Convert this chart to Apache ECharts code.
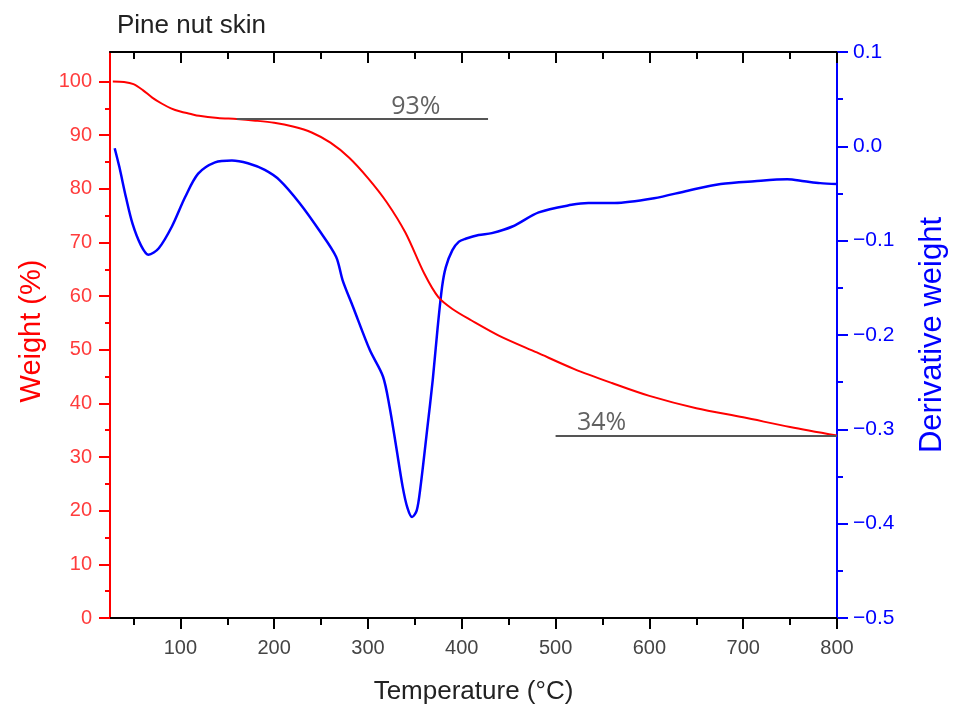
<!DOCTYPE html>
<html>
<head>
<meta charset="utf-8">
<script src="https://cdn.jsdelivr.net/npm/echarts@6/dist/echarts.min.js"></script>
<style>
  html, body { margin: 0; padding: 0; background: #fff; }
  #chart { width: 956px; height: 713px; }
</style>
</head>
<body>
<div id="chart"></div>
<script>
  // weight curve (left axis)
  const tempW = [28, 40, 50, 60, 70, 80, 90, 100, 110, 120, 140, 160, 180, 200, 220, 240, 260, 280, 300, 320,
    340, 360, 375, 390, 410, 440, 480, 520, 560, 600, 650, 700, 750, 800]
  const weight = [100, 99.9, 99.5, 98.4, 97.0, 95.9, 95.0, 94.4, 94.0, 93.6, 93.2, 93.0, 92.7, 92.3, 91.6, 90.5, 88.6, 85.8, 82.0, 77.5,
    71.8, 64.2, 59.8, 57.6, 55.5, 52.6, 49.5, 46.4, 43.8, 41.4, 39.1, 37.4, 35.6, 34.0]

  // derivative curve (right axis)
  const tempD = [30, 35, 42, 49, 58, 66, 77, 91, 105, 119, 137, 155, 172, 190, 206, 227, 248, 266, 273, 284,
    302, 316, 323, 330, 337, 342, 347, 352, 356, 363, 369, 374, 379, 383, 390, 397, 404, 418, 432, 454,
    482, 517, 535, 563, 605, 641, 676, 712, 747, 765, 782, 800]
  const deriv = [-0.002, -0.022, -0.054, -0.082, -0.105, -0.115, -0.108, -0.085, -0.054, -0.029, -0.017, -0.015, -0.018, -0.025, -0.036, -0.060, -0.089, -0.117, -0.142, -0.170,
    -0.216, -0.244, -0.276, -0.318, -0.361, -0.383, -0.393, -0.386, -0.361, -0.301, -0.248, -0.195, -0.149, -0.128, -0.110, -0.101, -0.098, -0.094, -0.092, -0.085,
    -0.070, -0.062, -0.060, -0.060, -0.055, -0.047, -0.040, -0.037, -0.035, -0.037, -0.039, -0.040]

  // ticks
  const xMajor = [100, 200, 300, 400, 500, 600, 700, 800]
  const xMinor = [50, 150, 250, 350, 450, 550, 650, 750]
  const yMajor = [0, 10, 20, 30, 40, 50, 60, 70, 80, 90, 100]
  const yMinor = [5, 15, 25, 35, 45, 55, 65, 75, 85, 95]

  // annotations
  const noteLabels = ['93%', '34%']
  const noteLabelX = [351, 549]
  const noteStart = [160, 500]
  const noteEnd = [428, 800]
  const noteLevel = [93, 34]

  const xMin = 25, xMax = 800
  const wMax = 105.5

  const pair = (xs, ys) => xs.map((x, i) => [x, ys[i]])

  function xAxisBase (position, ticks, len, inside) {
    return {
      type: 'value', position: position, min: xMin, max: xMax,
      axisLine: { show: true, onZero: false, lineStyle: { color: '#000', width: 2 } },
      axisTick: { show: true, customValues: ticks, length: len, inside: inside, lineStyle: { color: '#000', width: 2 } },
      axisLabel: { show: false },
      splitLine: { show: false }
    }
  }

  const bottomMajor = xAxisBase('bottom', xMajor, 11, false)
  bottomMajor.axisLabel = { show: true, customValues: xMajor, fontSize: 20, color: '#444', margin: 20, fontFamily: 'Liberation Sans' }
  bottomMajor.name = 'Temperature (°C)'
  bottomMajor.nameLocation = 'middle'
  bottomMajor.nameGap = 61
  bottomMajor.nameTextStyle = { fontSize: 26, color: '#222', fontFamily: 'Liberation Sans' }

  const bottomMinor = xAxisBase('bottom', xMinor, 7, false)
  bottomMinor.axisLine.show = false
  const topMajor = xAxisBase('top', xMajor, 11, true)
  const topMinor = xAxisBase('top', xMinor, 7, true)
  topMinor.axisLine.show = false

  const derivLabel = v => {
    if (Math.abs(v) < 1e-9) return '0.0'
    return v.toFixed(1).replace('-', '\u2212')
  }

  const chart = echarts.init(document.getElementById('chart'))
  chart.setOption({
    animation: false,
    backgroundColor: '#fff',
    title: {
      text: 'Pine nut skin', left: 112, top: 8,
      textStyle: { fontSize: 26, fontWeight: 'normal', color: '#222', fontFamily: 'Liberation Sans' }
    },
    grid: { left: 110, right: 115, top: 52, bottom: 95 },
    xAxis: [bottomMajor, bottomMinor, topMajor, topMinor],
    yAxis: [
      {
        type: 'value', position: 'left', min: 0, max: wMax,
        axisLine: { show: true, onZero: false, lineStyle: { color: '#ff0000', width: 2 } },
        axisTick: { show: true, customValues: yMajor, length: 11, lineStyle: { color: '#ff0000', width: 2 } },
        axisLabel: { customValues: yMajor, fontSize: 20, color: '#ff3c3c', margin: 18, fontFamily: 'Liberation Sans' },
        splitLine: { show: false },
        name: 'Weight (%)', nameLocation: 'middle', nameGap: 64, nameRotate: 90,
        nameTextStyle: { fontSize: 29, color: '#ff0000', fontFamily: 'Liberation Sans', padding: [0, 0, 0, 8] }
      },
      {
        type: 'value', position: 'left', min: 0, max: wMax,
        axisLine: { show: false },
        axisTick: { show: true, customValues: yMinor, length: 5, lineStyle: { color: '#ff0000', width: 2 } },
        axisLabel: { show: false },
        splitLine: { show: false }
      },
      {
        type: 'value', position: 'right', min: -0.5, max: 0.1, interval: 0.1,
        axisLine: { show: true, onZero: false, lineStyle: { color: '#0000ff', width: 2 } },
        axisTick: { show: true, length: 11, lineStyle: { color: '#0000ff', width: 2 } },
        minorTick: { show: true, splitNumber: 2, length: 6, lineStyle: { color: '#0000ff', width: 2 } },
        axisLabel: { formatter: derivLabel, fontSize: 21, color: '#0000ff', margin: 16, fontFamily: 'Liberation Sans' },
        splitLine: { show: false },
        minorSplitLine: { show: false },
        name: 'Derivative weight', nameLocation: 'middle', nameGap: 80, nameRotate: 90,
        nameTextStyle: { fontSize: 31, color: '#0000ff', fontFamily: 'Liberation Sans' }
      }
    ],
    series: [
      {
        name: 'Weight', type: 'line', xAxisIndex: 0, yAxisIndex: 0,
        data: pair(tempW, weight),
        showSymbol: false, smooth: 0.3,
        lineStyle: { color: '#ff0000', width: 2 },
        markLine: {
          silent: true, symbol: 'none', label: { show: false },
          lineStyle: { color: '#555', width: 2, type: 'solid' },
          data: noteLevel.map((lv, i) => [{ coord: [noteStart[i], lv] }, { coord: [noteEnd[i], lv] }])
        },
        z: 3
      },
      {
        name: 'Derivative', type: 'line', xAxisIndex: 0, yAxisIndex: 2,
        data: pair(tempD, deriv),
        showSymbol: false, smooth: 0.3,
        lineStyle: { color: '#0000ff', width: 2.5 },
        z: 2
      },
      {
        name: 'Notes', type: 'scatter', xAxisIndex: 0, yAxisIndex: 0,
        symbolSize: 0, silent: true,
        data: noteLabels.map((t, i) => ({ name: t, value: [noteLabelX[i], noteLevel[i]] })),
        label: {
          show: true, position: 'top', distance: 0, formatter: p => p.name,
          fontSize: 25, color: '#3a3a3a', fontFamily: 'Open Sans'
        }
      }
    ]
  })
</script>
</body>
</html>
